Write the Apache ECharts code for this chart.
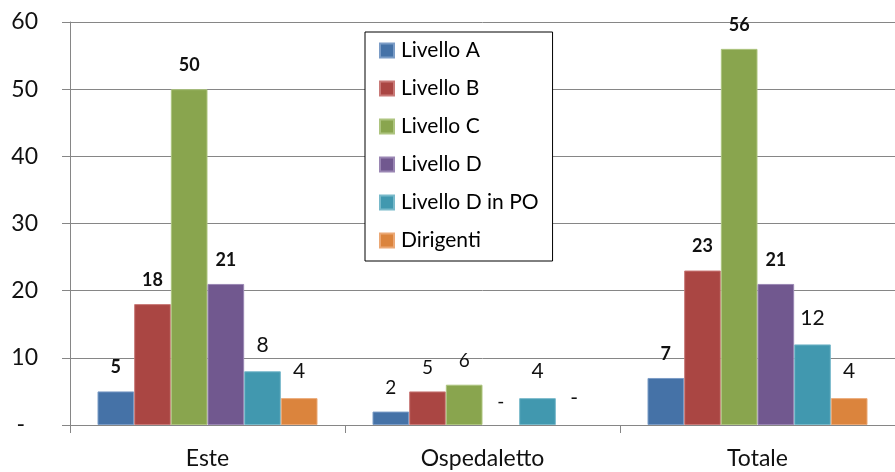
<!DOCTYPE html>
<html>
<head>
<meta charset="utf-8">
<script src="https://cdn.jsdelivr.net/npm/echarts@6/dist/echarts.min.js"></script>
<style>
html,body{margin:0;padding:0;background:#fff;}
#c{width:895px;height:472px;}
</style>
</head>
<body>
<div id="c"></div>
<script>
const categories = ['Este', 'Ospedaletto', 'Totale'];
const seriesNames = ['Livello A', 'Livello B', 'Livello C', 'Livello D', 'Livello D in PO', 'Dirigenti'];
const livelloA = [5, 2, 7];
const livelloB = [18, 5, 23];
const livelloC = [50, 6, 56];
const livelloD = [21, 0, 21];
const livelloDinPO = [8, 4, 12];
const dirigenti = [4, 0, 4];
const yMin = 0, yMax = 60, yStep = 10;

const colors = ['#4572A7', '#AA4643', '#89A54E', '#71588F', '#4198AF', '#DB843D'];
const borders = ['#7b9cc6', '#c97a78', '#adc47f', '#9a86b3', '#78b9ca', '#eba875'];
const allValues = [livelloA, livelloB, livelloC, livelloD, livelloDinPO, dirigenti];

const FONT = 'Lato';
// label look per series / category (style only)
function labelStyle(si, ci) {
  const big = si >= 4;
  if (big) return { fontSize: 21, fontWeight: 'normal', distance: 16 };
  if (ci === 1) return { fontSize: 19, fontWeight: 'normal', distance: 14 };
  return { fontSize: 18, fontWeight: 'bold', distance: 15 };
}

const series = allValues.map((vals, si) => ({
  name: seriesNames[si],
  type: 'bar',
  barGap: '0%',
  barCategoryGap: '20%',
  itemStyle: { color: colors[si], borderColor: borders[si], borderWidth: 1 },
  data: vals.map((v, ci) => {
    const ls = labelStyle(si, ci);
    return {
      value: v,
      itemStyle: v === 0 ? { borderWidth: 0 } : undefined,
      label: {
        show: true,
        position: 'top',
        distance: ls.distance,
        fontSize: ls.fontSize,
        lineHeight: ls.fontSize,
        fontWeight: ls.fontWeight,
        fontFamily: FONT,
        color: '#111',
        formatter: p => (p.value === 0 ? '-' : String(p.value))
      }
    };
  })
}));

const chart = echarts.init(document.getElementById('c'));
chart.setOption({
  animation: false,
  backgroundColor: '#fff',
  color: colors,
  grid: { left: 70, right: 0, top: 22, bottom: 47, containLabel: false },
  legend: {
    orient: 'vertical',
    left: 365,
    top: 32,
    padding: [8, 14, 10, 14],
    itemGap: 17,
    itemWidth: 14,
    itemHeight: 14,
    icon: 'rect',
    backgroundColor: '#fff',
    borderColor: '#000',
    borderWidth: 1,
    borderRadius: 0,
    textStyle: { fontFamily: FONT, fontSize: 21, lineHeight: 21, color: '#000', padding: [0, 0, 0, 2] },
    data: seriesNames
  },
  xAxis: {
    type: 'category',
    data: categories,
    axisLine: { lineStyle: { color: '#868686', width: 1 } },
    axisTick: { show: true, length: 8, lineStyle: { color: '#868686' } },
    axisLabel: { fontFamily: FONT, fontSize: 23, color: '#111', margin: 22 }
  },
  yAxis: {
    type: 'value',
    min: yMin,
    max: yMax,
    interval: yStep,
    axisLine: { show: true, lineStyle: { color: '#868686', width: 1 } },
    axisTick: { show: true, length: 8, inside: false, lineStyle: { color: '#868686' } },
    splitLine: { show: true, lineStyle: { color: '#868686', width: 1 } },
    axisLabel: {
      fontFamily: FONT, fontSize: 23, color: '#111', margin: 32,
      formatter: v => (v === 0 ? '{d|-}' : String(v)),
      rich: { d: { fontFamily: FONT, fontSize: 23, color: '#111', padding: [0, 13, 0, 0] } }
    }
  },
  series: series
});
</script>
</body>
</html>
